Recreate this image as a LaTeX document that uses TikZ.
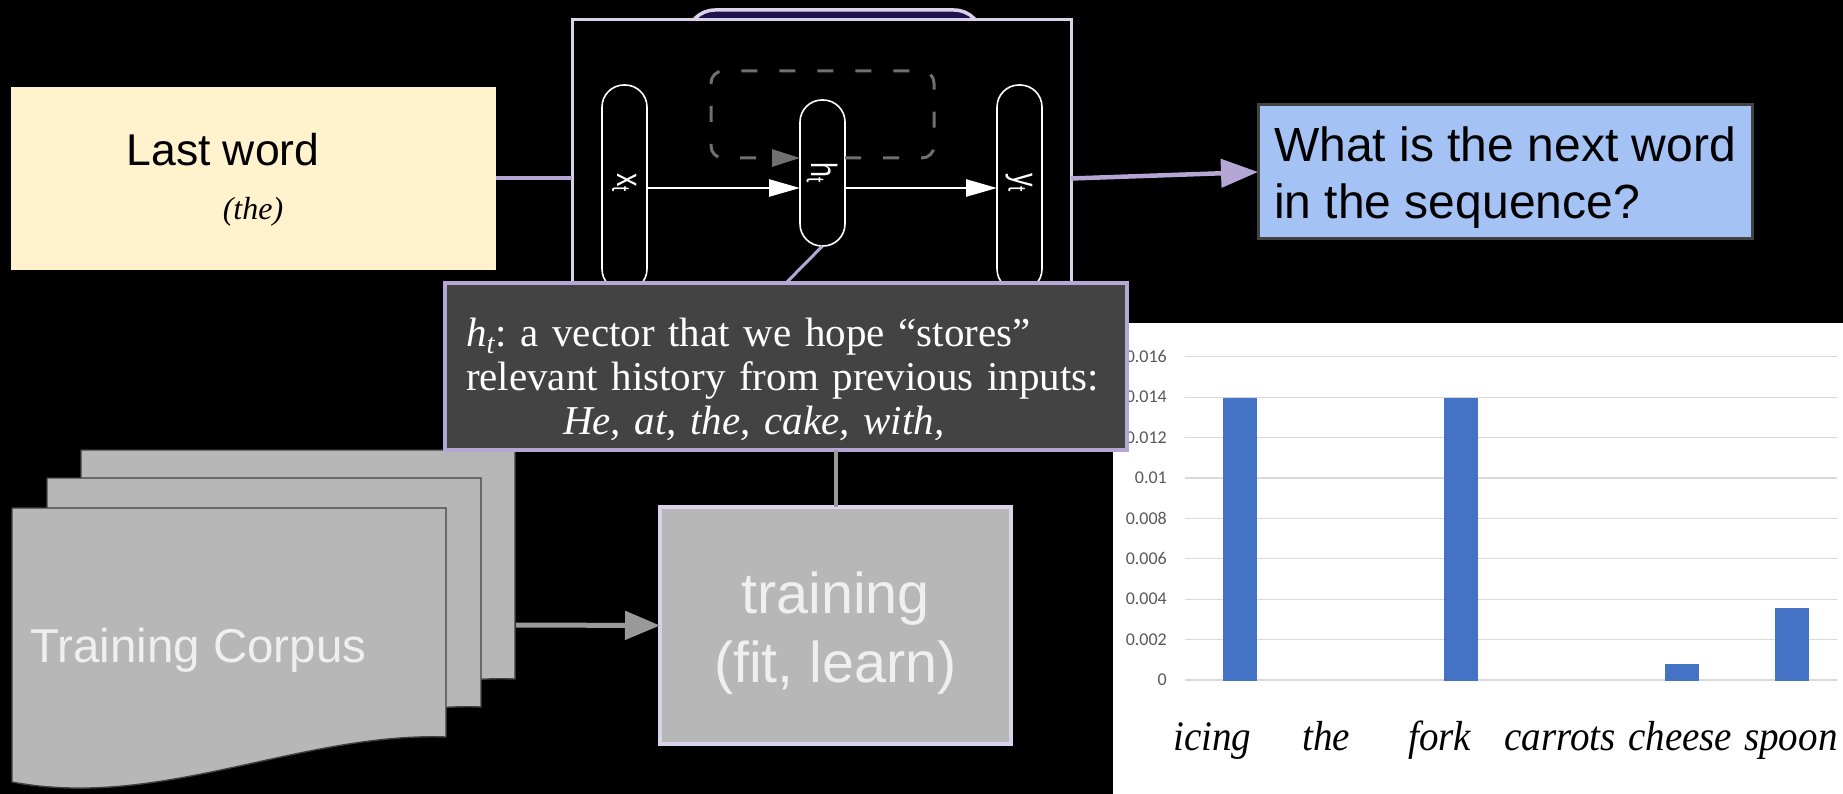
\documentclass[tikz,border=0pt]{standalone}
\usepackage{fontspec}
\setmainfont{Liberation Serif}
\setsansfont{Liberation Sans}
\newfontfamily\chartfont{Carlito}
\newfontfamily\chartserif[FakeStretch=0.93]{Liberation Serif}
\usepackage{tikz}
\usetikzlibrary{positioning, arrows.meta}

\definecolor{lavender}{HTML}{B4A7D6}
\definecolor{lavlight}{HTML}{D9D2E9}
\definecolor{darkpanel}{HTML}{434343}
\definecolor{docgray}{HTML}{B7B7B7}
\definecolor{softwhite}{HTML}{EFEFEF}
\definecolor{wordyellow}{HTML}{FFF2CC}
\definecolor{askblue}{HTML}{A4C2F4}
\definecolor{barblue}{HTML}{4472C4}
\definecolor{gridgray}{HTML}{D9D9D9}
\definecolor{axisgray}{HTML}{595959}
\definecolor{loopgray}{HTML}{707070}
\definecolor{linkgray}{HTML}{999999}
\definecolor{tabindigo}{HTML}{20124D}

\begin{document}
\frenchspacing
\begin{tikzpicture}[
        % one unit is one pixel of the slide, y grows downwards
        x=1pt, y=-1pt,
        % plain boxes, sized by hand
        panel/.style={rectangle, inner sep=0pt, outer sep=0pt},
        % the three time-step cells of the network
        pill/.style={panel, draw=white, line width=1.6pt, fill=black, rounded corners=22pt,
            minimum width=45pt, text=white, font=\sffamily\fontsize{27}{27}\selectfont},
        % the sheets of the corpus
        docpage/.style={fill=docgray, draw=black!75, line width=1.4pt},
        axislabel/.style={text=axisgray, font=\chartfont\fontsize{18}{18}\selectfont, inner sep=0pt},
        wordlabel/.style={font=\chartserif\itshape\fontsize{42}{42}\selectfont, inner sep=0pt, anchor=base west}
    ]

        % background of the slide
        \fill[black] (0,0) rectangle (1843,794);
        \useasboundingbox (0,0) rectangle (1843,794);

        % bar chart of the next word (values in thousandths)
        \fill[white] (1113,323) rectangle (1843,794);
        \foreach \k in {0,...,8}
            \draw[gridgray, line width=1.2pt] (1185,{680-40.4*\k}) -- (1837,{680-40.4*\k});
        \foreach \k/\v in {0/0, 1/0.002, 2/0.004, 3/0.006, 4/0.008, 5/0.01, 6/0.012, 7/0.014, 8/0.016}
            \node[axislabel, anchor=east] (tick\k) at (1167,{680-40.4*\k}) {\v};
        \foreach \c/\v in {1240/14, 1461/14, 1682/0.84, 1792/3.6}
            \fill[barblue] ({\c-17},681) rectangle ({\c+17},{681-\v*20.2});
        \foreach \w/\x in {icing/1173, the/1302, fork/1408, carrots/1504, cheese/1628, spoon/1744}
            \node[wordlabel] (word-\w) at (\x,750) {\w};

        % the recurrent network
        \node[panel, draw=lavlight, line width=3.5pt, fill=tabindigo, rounded corners=28pt,
            minimum width=295pt, minimum height=60pt] (rnntab) at (834.5,40) {};
        \node[panel, draw=lavlight, line width=3pt, fill=black,
            minimum width=499pt, minimum height=270pt] (rnn) at (821.5,155) {};
        \node[pill, minimum height=206pt] (xt) at (624.5,188) {\rotatebox{-90}{\scalebox{1}[1.35]{x\textsubscript{t}}\hspace*{10pt}}};
        \node[pill, minimum height=146pt] (ht) at (822.5,173) {\rotatebox{-90}{\scalebox{1}[1.35]{h\textsubscript{t}}}};
        \node[pill, minimum height=206pt] (yt) at (1019.5,188) {\rotatebox{-90}{\scalebox{1}[1.35]{y\textsubscript{t}}\hspace*{10pt}}};

        \draw[white, line width=2.5pt, -{Triangle[length=31pt, width=17pt]}] (xt.east) -- (xt.east -| ht.west);
        \draw[white, line width=2.5pt, -{Triangle[length=31pt, width=17pt]}] (ht.east |- yt.west) -- (yt.west);
        % the loop that feeds h back into itself
        \draw[loopgray, line width=3pt, dash pattern=on 16pt off 22pt, rounded corners=12pt,
            -{Triangle[length=28pt, width=17pt]}]
            ([yshift=15pt]ht.east) -- ++(89,0) -- ++(0,-87) -- ++(-223,0) -- ++(0,87) -- ([yshift=15pt]ht.west);

        % input and output
        \node[panel, fill=wordyellow, minimum width=485pt, minimum height=183pt] (lastword) at (253.5,178.5) {};
        \node[anchor=base, inner sep=0pt, font=\sffamily\fontsize{44.5}{50}\selectfont] (lastlabel) at (223,166) {Last word};
        \node[anchor=base, inner sep=0pt, font=\itshape\fontsize{32}{36}\selectfont] (lastthe) at (253,220) {(the)};

        \node[panel, draw=darkpanel, line width=3pt, fill=askblue, minimum width=494pt, minimum height=134pt,
            align=left, font=\sffamily\fontsize{48}{57}\selectfont] (question) at (1505,172)
            {\raisebox{0pt}[45pt][0pt]{}What is the next word\\in the sequence?};

        % corpus and training
        \foreach \dx/\dy in {69/-58, 35/-30, 0/0} {
            \begin{scope}[shift={(\dx,\dy)}]
                \draw[docpage] (12,508) -- (446,508) -- (446,737) .. controls (300,732) and (160,810) .. (12,782) -- cycle;
            \end{scope}
        }
        \node[anchor=base west, inner sep=0pt, text=softwhite, font=\sffamily\fontsize{47.5}{50}\selectfont] (corpus) at (30,662) {Training Corpus};
        \coordinate (corpusout) at (516,625);

        \node[panel, draw=lavlight, line width=4pt, fill=docgray, minimum width=351pt, minimum height=237pt,
            align=center, text=softwhite, font=\sffamily\fontsize{57.5}{69}\selectfont] (training) at (835.5,625.5)
            {\raisebox{0pt}[56pt][0pt]{}training\\(fit, learn)};

        % what h stores
        \node[panel, draw=lavender, line width=4pt, fill=darkpanel, minimum width=682pt, minimum height=167pt,
            text width=640pt, align=left, text=white, font=\fontsize{41}{44}\selectfont] (hbox) at (786,366.5)
            {\raisebox{0pt}[54pt][0pt]{}\textit{h}\textsubscript{\textit{t}}: a vector that we hope “stores”\\
             relevant history from previous inputs:\\
             \hspace*{97pt}\textit{He, at, the, cake, with,}};

        % connectors
        \draw[lavender, line width=4pt] (lastword.east) -- (lastword.east -| rnn.west);
        \draw[lavender, line width=4.5pt, -{Triangle[length=37pt, width=28pt]}] (lastword.east -| rnn.east) -- (question.west);
        \draw[lavender, line width=3pt] (ht.south) -- (hbox.north);
        \draw[linkgray, line width=4pt] (training.north |- hbox.south) -- (training.north);
        \draw[linkgray, line width=5pt, -{Triangle[length=35pt, width=28pt]}] (corpusout) -- (training.west);

    \end{tikzpicture}
\end{document}
